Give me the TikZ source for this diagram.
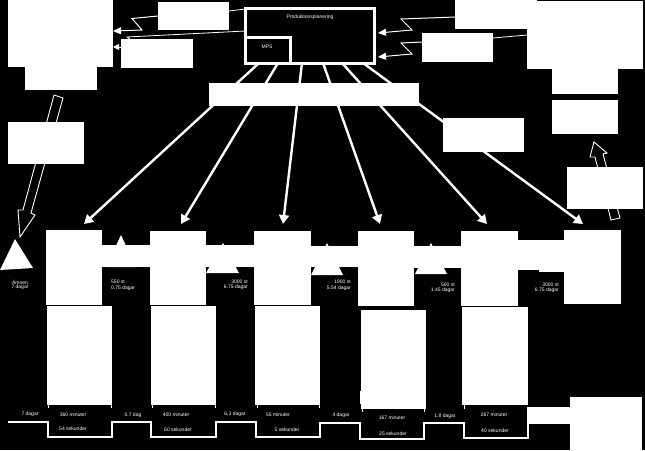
\documentclass[tikz,border=0pt]{standalone}
\usepackage{fontspec}
\setmainfont{Liberation Sans}
\usetikzlibrary{arrows.meta,backgrounds}
\tikzset{
  wb/.style={fill=white,inner sep=0pt,outer sep=0pt,draw=none},
  lab/.style={text=white,font=\fontsize{5}{5.6}\selectfont,inner sep=0pt,align=center},
  labr/.style={lab,align=right,anchor=east},
  thick arrow/.style={draw=white,line width=2.4pt,-{Triangle[width=10pt,length=9pt]}},
  thin arrow/.style={draw=white,line width=1pt,-{Triangle[width=7pt,length=8pt]}},
  small arrow/.style={draw=white,line width=1pt,-{Triangle[width=6pt,length=6pt]}},
  thin line/.style={draw=white,line width=.8pt},
  hollow/.style={draw=white,line width=.9pt,fill=black,line join=miter},
  frame/.style={draw=white,line width=3pt,inner sep=0pt,outer sep=0pt}
}
\newcommand{\wbox}[5]{%
  \pgfmathsetmacro{\wcx}{(#2+#4)/2}\pgfmathsetmacro{\wcy}{(#3+#5)/2}%
  \pgfmathsetmacro{\wbw}{#4-#2}\pgfmathsetmacro{\wbh}{#5-#3}%
  \node[wb,minimum width=\wbw pt,minimum height=\wbh pt] (#1) at (\wcx,\wcy) {};}
\begin{document}
\begin{tikzpicture}[x=1pt,y=-1pt]
\useasboundingbox (0,0) rectangle (645,450);
% frames
\node[frame,minimum width=129pt,minimum height=54.5pt] (main) at (310,35.75) {};
\node[frame,minimum width=45pt,minimum height=26pt] (mps) at (267.5,50) {};
\node[lab] (t0) at (310,17) {Produktionsplanering};
\node[lab] (t00) at (267,47) {MPS};
% top left
\wbox{la}{8}{0}{113}{67}
\wbox{lb}{25}{67}{97}{90}
\wbox{ba}{158}{2}{229}{30}
\wbox{bb}{121}{39}{193}{68}
\wbox{lc}{8}{122}{84}{164}
% top right
\wbox{ra}{527}{1}{643}{69}
\wbox{rb}{552}{69}{618}{94}
\wbox{rc}{552}{100}{618}{134}
\wbox{rd}{567}{167}{643}{209}
\wbox{bc}{455}{0}{537}{29}
\wbox{bd}{422}{33}{493}{62}
\wbox{be}{443}{118}{524}{152}
\wbox{band}{209}{83}{419}{106}
% processes
\wbox{pa}{46}{230}{102}{305}
\wbox{pb}{150}{231}{206}{305}
\wbox{pc}{254}{231}{311}{305}
\wbox{pd}{358}{231}{414}{306}
\wbox{pe}{461}{231}{518}{306}
\wbox{pf}{564}{230}{621}{304}
% inter-process bands
\wbox{ia}{102}{245}{150}{267}
\wbox{ib}{206}{245}{254}{267}
\wbox{ic}{311}{246}{358}{267}
\wbox{id}{414}{246}{461}{268}
\wbox{ie}{518}{240}{564}{270}
\wbox{ig}{539}{268}{564}{272}
% data boxes
\wbox{da}{47}{306}{112}{405}
\wbox{db}{151}{306}{216}{405}
\wbox{dc}{255}{306}{320}{405}
\wbox{dd}{361}{310}{426}{409}
\wbox{dd2}{360}{391}{362}{404}
\wbox{de}{462}{307}{528}{405}
% bottom right
\wbox{fa}{570}{397}{642}{450}
\wbox{fb}{528}{407}{570}{424}
% triangles
\fill[white] (15,239) -- (0,270) -- (33,268) -- cycle;
\fill[white] (121,235) -- (106,267) -- (136,267) -- cycle;
\fill[white] (223,243) -- (206,273) -- (239,273) -- cycle;
\fill[white] (327,243) -- (311,275) -- (343,275) -- cycle;
\fill[white] (431,243) -- (415,274) -- (447,274) -- cycle;
\fill[white] (518,262) -- (518,269) -- (522,269) -- cycle;
% labels
\node[lab] (a1) at (20,282) {Ämnen};
\node[lab] (a2) at (20,287.5) {7 dagar};
\node[lab,anchor=west] (b1) at (111,282) {550 st};
\node[lab,anchor=west] (b2) at (111,288) {0.75 dagar};
\node[labr] (c1) at (248,282) {3000 st};
\node[labr] (c2) at (248,287.5) {6.75 dagar};
\node[labr] (d1) at (351,282) {1900 st};
\node[labr] (d2) at (351,288) {5.54 dagar};
\node[labr] (e1) at (455,285) {500 st};
\node[labr] (e2) at (455,290) {1.45 dagar};
\node[labr] (f1) at (559,285) {3000 st};
\node[labr] (f2) at (559,290) {6.75 dagar};
\node[lab] (g1) at (30,414) {7 dagar};
\node[lab] (g2) at (73,415) {360 minuter};
\node[lab] (g3) at (73,429) {54 sekunder};
\node[lab] (g4) at (133,415) {0.7 dag};
\node[lab] (g5) at (176,415) {400 minuter};
\node[lab] (g6) at (178,430) {60 sekunder};
\node[lab] (g7) at (235,414) {6,3 dagar};
\node[lab] (g8) at (278,415) {55 minuter};
\node[lab] (g9) at (287,430) {5 sekunder};
\node[lab] (g10) at (341,415) {4 dagar};
\node[lab] (g11) at (392,418) {167 minuter};
\node[lab] (g12) at (393,434) {25 sekunder};
\node[lab] (g13) at (445,416) {1.8 dagar};
\node[lab] (g14) at (494,415) {267 minuter};
\node[lab] (g15) at (495,431) {40 sekunder};
% connectors behind everything
\begin{pgfonlayer}{background}
\fill[black] (0,0) rectangle (645,450);
\coordinate (u1) at (84,224); \coordinate (u2) at (181,224); \coordinate (u3) at (283,224);
\coordinate (u4) at (380,224); \coordinate (u5) at (487,224); \coordinate (u6) at (583,224);
\draw[thick arrow] ([xshift=-51pt]main.south) -- (u1);
\draw[thick arrow] ([xshift=-32pt]main.south) -- (u2);
\draw[thick arrow] ([xshift=-8pt]main.south) -- (u3);
\draw[thick arrow] ([xshift=13pt]main.south) -- (u4);
\draw[thick arrow] ([xshift=32pt]main.south) -- (u5);
\draw[thick arrow] ([xshift=53pt]main.south) -- (u6);
\draw[thin line] (ba.east |- 0,11) -- (main.west |- 0,9);
\draw[thin arrow] (ba.west) -- (132,18.5) -- (142,30) -- (la.east |- 0,31);
\draw[thin line] (main.west |- 0,31) -- (127,37) -- (130,39);
\draw[small arrow] (bb.west |- 0,47) -- (la.east |- 0,47);
\draw[thin line] (bd.east |- 0,38) -- (ra.west |- 0,35);
\draw[thin arrow] (bc.west |- 0,17) -- (401,19) -- (412,30) -- (378,33);
\draw[thin arrow] (bd.west |- 0,42) -- (401,43) -- (412,54) -- (378,57);
\draw[hollow] (54,95) -- (63,98) -- (31,213) -- (35,215) -- (20,237) -- (18,210) -- (23,210) -- cycle;
\draw[hollow] (594,142) -- (607,153) -- (603,154) -- (620,218) -- (611,220) -- (595,157) -- (590,157) -- cycle;
% timeline
\draw[draw=white,line width=1.1pt] (8,422) -- (48,422) -- (48,437) -- (112,437) -- (112,422) -- (151,422) -- (151,437) -- (216,437) -- (216,422) -- (256,422) -- (256,437) -- (320,437) -- (320,423) -- (360,423) -- (360,439) -- (424,439) -- (424,423) -- (464,423) -- (464,438) -- (528,438) -- (528,407);
% ticks
\draw[draw=white,line width=.6pt] (48.5,404) -- (48.5,408) (111,404) -- (111,408) (152,404) -- (152,408) (215,404) -- (215,408) (257,404) -- (257,408) (319,404) -- (319,408) (362,408) -- (362,412) (424,408) -- (424,412) (464,405) -- (464,409);
\end{pgfonlayer}
\end{tikzpicture}
\end{document}
